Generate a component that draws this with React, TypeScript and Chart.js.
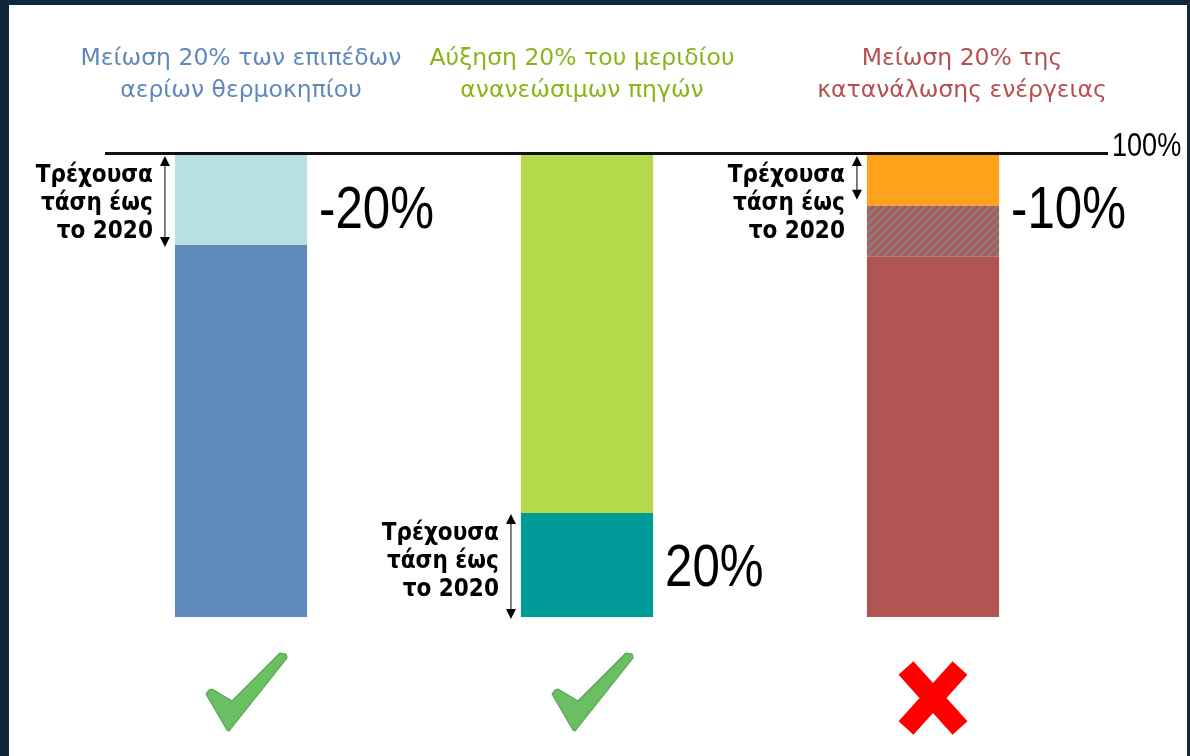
import React, { useEffect, useRef } from 'react';
import { Chart, registerables } from 'chart.js';

Chart.register(...registerables);

// ---- data ----
const categories = [
  'Μείωση 20% των επιπέδων αερίων θερμοκηπίου',
  'Αύξηση 20% του μεριδίου ανανεώσιμων πηγών',
  'Μείωση 20% της κατανάλωσης ενέργειας',
];
const titleLines = [
  ['Μείωση 20% των επιπέδων', 'αερίων θερμοκηπίου'],
  ['Αύξηση 20% του μεριδίου', 'ανανεώσιμων πηγών'],
  ['Μείωση 20% της', 'κατανάλωσης ενέργειας'],
];
const baseValues = [80.5, 22.5, 78];
const hatchedValues = [0, 0, 11];
const upperValues = [19.5, 77.5, 11];
const changeLabels = ['-20%', '20%', '-10%'];
const trendLines = ['Τρέχουσα', 'τάση έως', 'το 2020'];
const trendDataset = [2, 0, 2];
const targetMet = [true, true, false];
const yMax = 100;
const topLabel = '100%';

// ---- styles ----
const titleColors = ['#5f88be', '#8ab41a', '#b5504f'];
const baseColors = ['#5f88bb', '#009a98', '#b15553'];
const upperColors = ['#b8dfe2', '#b4d94a', '#ffa31c'];
const titleOffsets = [0, -5, 29];
const BIG_FONT = '"Liberation Sans", Arial, sans-serif';
const TITLE_FONT = '"DejaVu Sans", sans-serif';
const TXT_FONT = '"DejaVu Sans Condensed", "DejaVu Sans", sans-serif';

function makeHatch(): CanvasPattern | string {
  const c = document.createElement('canvas');
  c.width = 8;
  c.height = 8;
  const g = c.getContext('2d');
  if (!g) return '#808080';
  g.fillStyle = '#828282';
  g.fillRect(0, 0, 8, 8);
  g.strokeStyle = '#b45656';
  g.lineWidth = 3.2;
  g.beginPath();
  g.moveTo(-2, 10); g.lineTo(10, -2);
  g.moveTo(-6, 6); g.lineTo(6, -6);
  g.moveTo(2, 14); g.lineTo(14, 2);
  g.stroke();
  const p = g.createPattern(c, 'repeat');
  return p || '#808080';
}

function narrowText(ctx: CanvasRenderingContext2D, text: string, x: number, y: number, size: number) {
  ctx.save();
  ctx.font = `${size}px ${BIG_FONT}`;
  ctx.textAlign = 'left';
  ctx.textBaseline = 'alphabetic';
  ctx.translate(x, y);
  ctx.scale(0.82, 1);
  ctx.fillText(text, 0, 0);
  ctx.restore();
}

function drawArrow(ctx: CanvasRenderingContext2D, x: number, y1: number, y2: number) {
  ctx.save();
  ctx.strokeStyle = '#555';
  ctx.lineWidth = 1.5;
  ctx.beginPath();
  ctx.moveTo(x, y1 + 4);
  ctx.lineTo(x, y2 - 4);
  ctx.stroke();
  ctx.fillStyle = '#000';
  ctx.beginPath();
  ctx.moveTo(x, y1); ctx.lineTo(x - 5, y1 + 10); ctx.lineTo(x + 5, y1 + 10); ctx.closePath();
  ctx.fill();
  ctx.beginPath();
  ctx.moveTo(x, y2); ctx.lineTo(x - 5, y2 - 10); ctx.lineTo(x + 5, y2 - 10); ctx.closePath();
  ctx.fill();
  ctx.restore();
}

function drawCheck(ctx: CanvasRenderingContext2D, cx: number, by: number) {
  const pts = [[-32, 73], [-29, 72], [-9, 84], [39, 36], [45, 37], [46, 41], [-12, 114], [-14, 113], [-35, 77]];
  ctx.save();
  ctx.beginPath();
  pts.forEach(([dx, dy], i) => (i ? ctx.lineTo(cx + dx, by + dy) : ctx.moveTo(cx + dx, by + dy)));
  ctx.closePath();
  ctx.fillStyle = '#6abf63';
  ctx.fill();
  ctx.strokeStyle = '#58a352';
  ctx.lineWidth = 1.2;
  ctx.lineJoin = 'round';
  ctx.stroke();
  ctx.restore();
}

function drawCross(ctx: CanvasRenderingContext2D, cx: number, by: number) {
  const cy = by + 81;
  ctx.save();
  ctx.strokeStyle = '#ff0000';
  ctx.lineWidth = 20;
  ctx.lineCap = 'butt';
  ctx.beginPath();
  ctx.moveTo(cx - 27, cy - 30); ctx.lineTo(cx + 27, cy + 30);
  ctx.moveTo(cx + 27, cy - 30); ctx.lineTo(cx - 27, cy + 30);
  ctx.stroke();
  ctx.restore();
}

const overlay = {
  id: 'overlay',
  beforeDraw(chart: any) {
    const { ctx, width, height } = chart;
    ctx.save();
    ctx.fillStyle = '#0f273b';
    ctx.fillRect(0, 0, width, height);
    ctx.fillStyle = '#ffffff';
    ctx.fillRect(9, 5, width - 12, height - 5);
    ctx.restore();
  },
  afterDraw(chart: any) {
    const { ctx } = chart;
    const yScale = chart.scales.y;
    const topY = yScale.getPixelForValue(yMax);
    const bottomY = yScale.getPixelForValue(0);
    ctx.save();
    // reference line at 100%
    ctx.strokeStyle = '#111';
    ctx.lineWidth = 3;
    ctx.beginPath();
    ctx.moveTo(105, topY - 1.5);
    ctx.lineTo(1108, topY - 1.5);
    ctx.stroke();
    ctx.fillStyle = '#000';
    narrowText(ctx, topLabel, 1112, topY + 1, 33);

    categories.forEach((_, i) => {
      const bar = chart.getDatasetMeta(0).data[i];
      const cx = bar.x;
      const left = cx - bar.width / 2;
      const right = cx + bar.width / 2;
      // titles
      ctx.fillStyle = titleColors[i];
      ctx.font = `23.5px ${TITLE_FONT}`;
      ctx.textAlign = 'center';
      ctx.textBaseline = 'alphabetic';
      titleLines[i].forEach((t, k) => ctx.fillText(t, cx + titleOffsets[i], 65 + k * 32));
      // trend segment
      const seg = chart.getDatasetMeta(trendDataset[i]).data[i];
      const segTop = seg.y;
      let segBottom = seg.base;
      if (i === 2) segBottom = seg.base - 8;
      drawArrow(ctx, left - 10, segTop + 1, segBottom + 2);
      ctx.fillStyle = '#000';
      ctx.font = `bold 24px ${TXT_FONT}`;
      ctx.textAlign = 'right';
      trendLines.forEach((t, k) => ctx.fillText(t, left - 22, segTop + 27 + k * 28));
      // change label
      ctx.fillStyle = '#000';
      narrowText(ctx, changeLabels[i], right + 12, segTop + 73, 60);
      // check / cross
      if (targetMet[i]) drawCheck(ctx, cx, bottomY);
      else drawCross(ctx, cx, bottomY);
    });
    ctx.restore();
  },
};

export default function App() {
  const ref = useRef<HTMLCanvasElement | null>(null);
  useEffect(() => {
    if (!ref.current) return;
    const hatch = makeHatch();
    const chart = new Chart(ref.current, {
      type: 'bar',
      data: {
        labels: categories,
        datasets: [
          { data: baseValues, backgroundColor: baseColors, borderWidth: 0 },
          { data: hatchedValues, backgroundColor: hatch as any, borderWidth: 0 },
          { data: upperValues, backgroundColor: upperColors, borderWidth: 0 },
        ],
      },
      options: {
        responsive: false,
        animation: false,
        devicePixelRatio: 1,
        layout: { padding: { left: 68, right: 84, top: 155, bottom: 139 } },
        datasets: { bar: { categoryPercentage: 1, barPercentage: 0.382 } } as any,
        plugins: { legend: { display: false }, tooltip: { enabled: false }, title: { display: false } },
        scales: {
          x: { stacked: true, display: false, grid: { display: false } },
          y: { stacked: true, display: false, min: 0, max: yMax, grid: { display: false } },
        },
      },
      plugins: [overlay],
    });
    return () => chart.destroy();
  }, []);
  return (
    <div style={{ position: 'fixed', left: 0, top: 0, width: 1190, height: 756 }}>
      <canvas ref={ref} width={1190} height={756} style={{ display: 'block', width: 1190, height: 756 }} />
    </div>
  );
}
